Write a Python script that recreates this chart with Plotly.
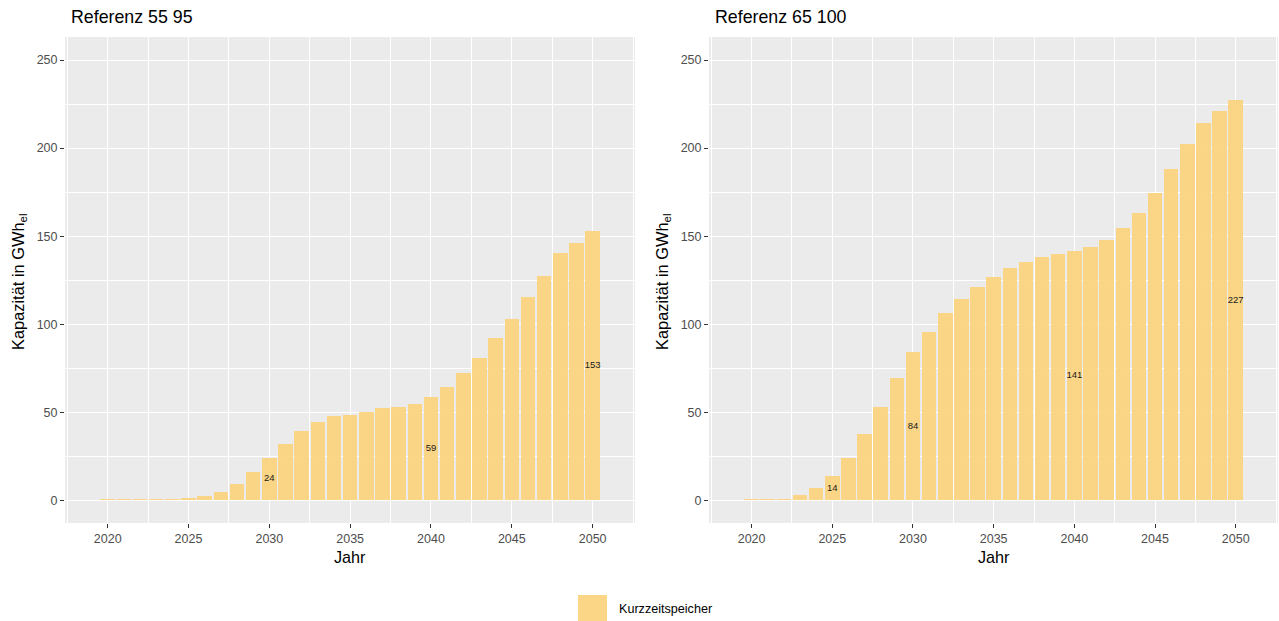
import plotly.graph_objects as go

years = list(range(2020, 2051))
ref_55_95 = [0.6, 0.6, 0.6, 0.7, 0.8, 1.3, 2.6, 4.9, 9.1, 15.9, 24.2, 32.1, 39.1, 44.7, 47.9,
             48.6, 50.4, 52.3, 53.2, 54.6, 58.6, 64.6, 72.4, 80.6, 92.4, 103.2, 115.4, 127.2,
             140.2, 146.3, 153.2]
ref_65_100 = [0.5, 0.6, 0.9, 2.8, 6.8, 13.8, 24.2, 37.5, 52.8, 69.2, 84.0, 95.8, 106.2, 114.5,
              121.0, 126.6, 131.9, 135.5, 137.9, 139.8, 141.3, 143.8, 148.1, 154.7, 163.4, 174.5,
              188.1, 202.3, 214.5, 221.3, 227.2]
label_years_55_95 = [2030, 2040, 2050]
label_years_65_100 = [2025, 2030, 2040, 2050]
titles = ["Referenz 55 95", "Referenz 65 100"]
series_name = "Kurzzeitspeicher"
y_ticks = [0, 50, 100, 150, 200, 250]
x_ticks = [2020, 2025, 2030, 2035, 2040, 2045, 2050]

BAR = "rgba(251,210,125,0.92)"
FONT = "Liberation Sans, Arial, sans-serif"
W, H = 1279, 621

fig = go.Figure()
panels = [(ref_55_95, label_years_55_95, "x", "y"), (ref_65_100, label_years_65_100, "x2", "y2")]
for vals, lab_years, xa, ya in panels:
    fig.add_trace(go.Bar(x=years, y=vals, width=0.9, marker=dict(color=BAR, line=dict(width=0)),
                         name=series_name, showlegend=False, xaxis=xa, yaxis=ya))
    ly = [vals[years.index(y)] / 2 for y in lab_years]
    lt = [str(round(vals[years.index(y)])) for y in lab_years]
    fig.add_trace(go.Scatter(x=lab_years, y=ly, text=lt, mode="text", showlegend=False,
                             textfont=dict(size=9.5, color="#1a1a1a", family=FONT),
                             hoverinfo="skip", xaxis=xa, yaxis=ya))

left_dom = [65 / W, 635 / W]
right_dom = [709 / W, 1278 / W]
y_dom = [1 - 523 / H, 1 - 37 / H]

def xaxis(dom, anchor):
    return dict(domain=dom, anchor=anchor, range=[2017.36, 2052.62], tickmode="array",
                tickvals=x_ticks, ticks="outside", ticklen=4, tickwidth=1.1, tickcolor="#333333",
                tickfont=dict(size=12.5, color="#4d4d4d", family=FONT), showgrid=True,
                gridcolor="white", gridwidth=1.4, zeroline=False, showline=False,
                minor=dict(tick0=2017.5, dtick=2.5, showgrid=True, gridcolor="white",
                           gridwidth=0.6, ticks=""))

def yaxis(anchor):
    return dict(domain=y_dom, anchor=anchor, range=[-12.9, 263.1], tickmode="array",
                tickvals=y_ticks, ticks="outside", ticklen=4, tickwidth=1.1, tickcolor="#333333",
                tickfont=dict(size=12.5, color="#4d4d4d", family=FONT), showgrid=True,
                gridcolor="white", gridwidth=1.4, zeroline=False, showline=False,
                minor=dict(tick0=25, dtick=50, showgrid=True, gridcolor="white",
                           gridwidth=0.6, ticks=""))

fig.update_layout(
    width=W, height=H, margin=dict(l=0, r=0, t=0, b=0),
    paper_bgcolor="white", plot_bgcolor="#EBEBEB", bargap=0,
    font=dict(family=FONT),
    xaxis=xaxis(left_dom, "y"), yaxis=yaxis("x"),
    xaxis2=xaxis(right_dom, "y2"), yaxis2=yaxis("x2"),
    showlegend=False,
)

annots = []
for dom, t in zip([left_dom, right_dom], titles):
    annots.append(dict(text=t, x=dom[0] + 4 / W, y=1 - 17 / H, xref="paper", yref="paper",
                       xanchor="left", yanchor="middle", showarrow=False,
                       font=dict(size=17.8, color="black", family=FONT)))
    annots.append(dict(text="Jahr", x=(dom[0] + dom[1]) / 2, y=1 - 557 / H, xref="paper",
                       yref="paper", xanchor="center", yanchor="middle", showarrow=False,
                       font=dict(size=16.2, color="black", family=FONT)))
    annots.append(dict(text="Kapazität in GWh<sub>el</sub>", x=dom[0] - 46 / W,
                       y=1 - 282 / H, xref="paper", yref="paper",
                       xanchor="center", yanchor="middle", textangle=-90, showarrow=False,
                       font=dict(size=16.4, color="black", family=FONT)))
annots.append(dict(text=series_name, x=617 / W, y=1 - 609 / H, xref="paper", yref="paper",
                   xanchor="left", yanchor="middle", showarrow=False,
                   font=dict(size=12.6, color="black", family=FONT)))
fig.update_layout(annotations=annots)
fig.add_shape(type="rect", xref="paper", yref="paper", x0=578 / W, x1=607 / W,
              y0=-0.02, y1=1 - 595 / H, fillcolor=BAR, line=dict(width=0), layer="above")

fig.write_html("out.html", config={"displayModeBar": False},
               post_script="document.body.style.margin='0';document.body.style.overflow='hidden';")
